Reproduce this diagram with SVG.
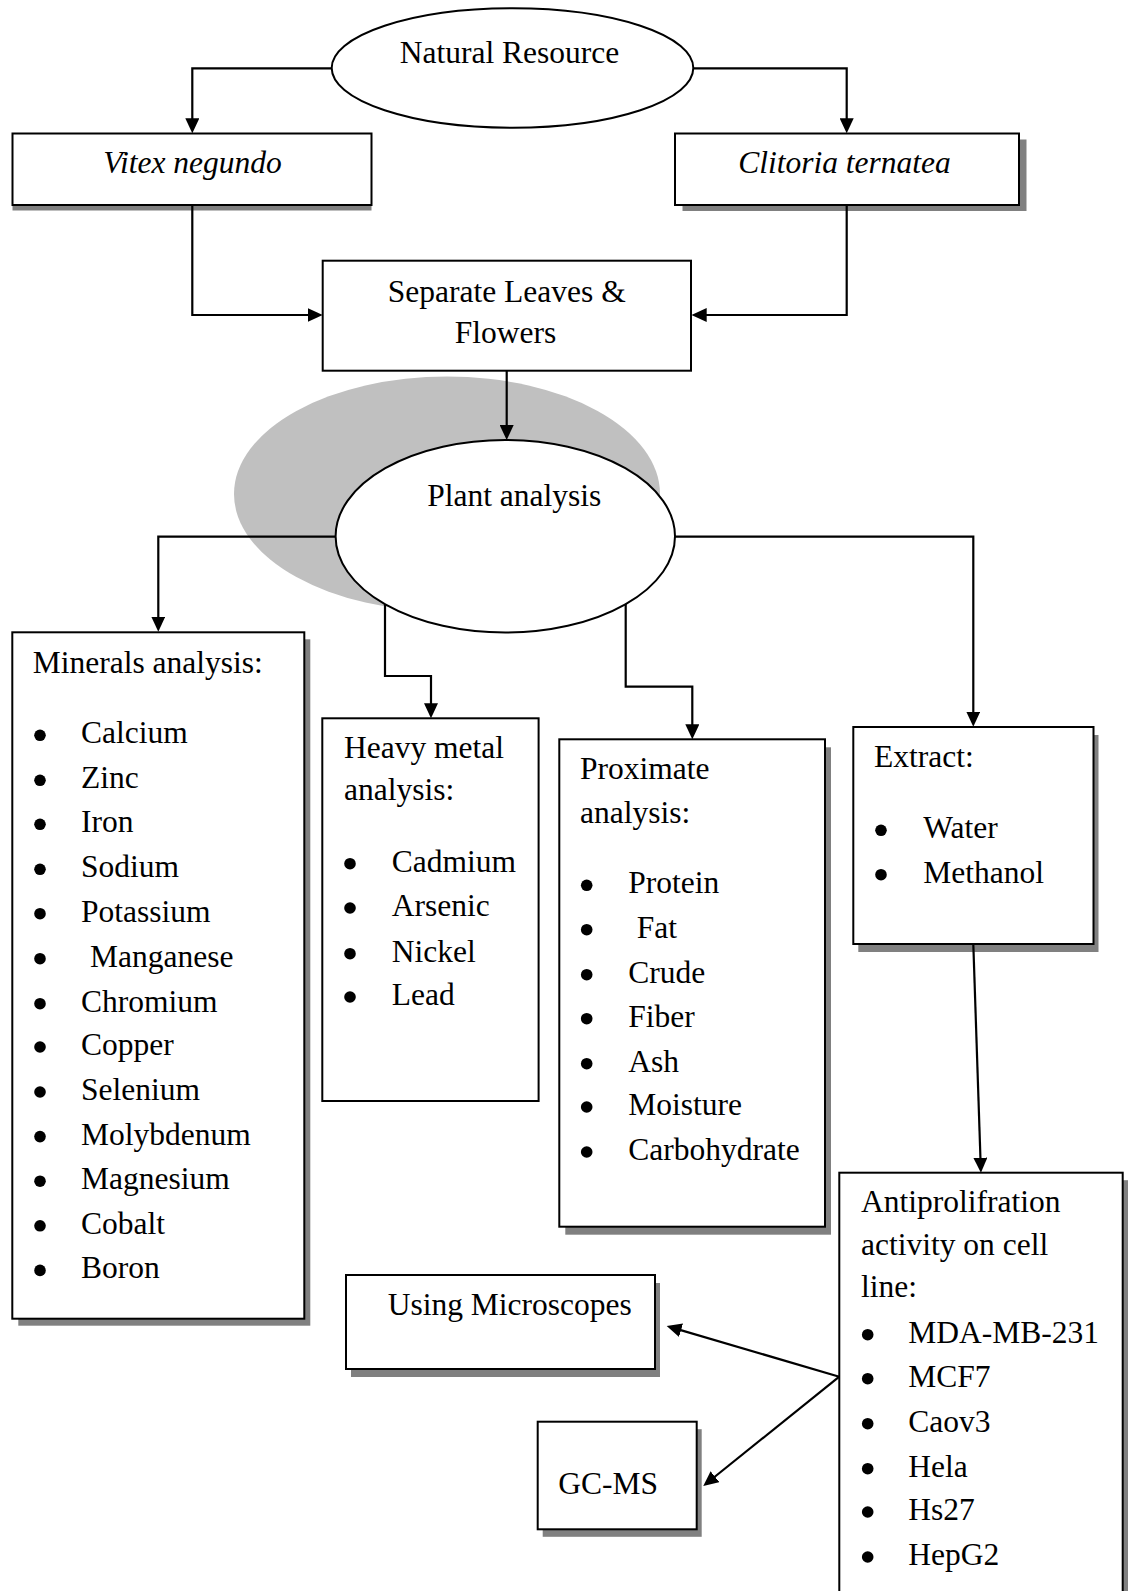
<svg xmlns="http://www.w3.org/2000/svg" width="1128" height="1591" viewBox="0 0 1128 1591">
<defs>
<style>
text{font-family:"Liberation Serif","Times New Roman",serif;font-size:31.5px;fill:#000}
.it{font-style:italic}
.mid{text-anchor:middle}
.bul{fill:#000}
.box{fill:#fff;stroke:#000;stroke-width:2}
.sh{fill:#808080}
.conn{fill:none;stroke:#000;stroke-width:2.2}
</style>
<marker id="ah" viewBox="0 0 15 14" refX="11" refY="7" markerWidth="15" markerHeight="14" markerUnits="userSpaceOnUse" orient="auto">
<path d="M0,0 L15,7 L0,14 z" fill="#000"/>
</marker>
</defs>
<rect width="1128" height="1591" fill="#fff"/>

<g id="natural-resource">
<ellipse class="box" cx="512.5" cy="68" rx="180.8" ry="59.7"/>
<text class="mid" x="509.5" y="62.7">Natural Resource</text>
</g>

<g id="vitex">
<rect class="sh" x="12.5" y="139" width="359" height="71.5"/>
<rect class="box" x="12.5" y="133.5" width="359" height="71.5"/>
<text class="it mid" x="192.5" y="172.7">Vitex negundo</text>
</g>

<g id="clitoria">
<rect class="sh" x="682.5" y="139.5" width="344" height="71.5"/>
<rect class="box" x="675" y="133.5" width="344" height="71.5"/>
<text class="it mid" x="844.5" y="172.7">Clitoria ternatea</text>
</g>

<g id="separate">
<rect class="box" x="322.7" y="260.7" width="368.3" height="110"/>
<text class="mid" x="506.7" y="301.7">Separate Leaves &amp;</text>
<text class="mid" x="505.5" y="343.3">Flowers</text>
</g>

<g id="plant-analysis">
<ellipse cx="447" cy="494" rx="213" ry="117.5" fill="#c0c0c0"/>
<ellipse class="box" cx="505.3" cy="536.3" rx="169.7" ry="96.3"/>
<text class="mid" x="514.2" y="505.7">Plant analysis</text>
</g>

<g id="minerals">
<rect class="sh" x="18.3" y="639.3" width="292" height="686.4"/>
<rect class="box" x="12.3" y="632.3" width="292" height="686.4"/>
<text x="32.7" y="672.7">Minerals analysis:</text>
<g class="bul">
<circle cx="40" cy="735.3" r="5.8"/><circle cx="40" cy="780.3" r="5.8"/><circle cx="40" cy="824.3" r="5.8"/>
<circle cx="40" cy="869.3" r="5.8"/><circle cx="40" cy="913.7" r="5.8"/><circle cx="40" cy="958.7" r="5.8"/>
<circle cx="40" cy="1003.7" r="5.8"/><circle cx="40" cy="1047" r="5.8"/><circle cx="40" cy="1092" r="5.8"/>
<circle cx="40" cy="1136.6" r="5.8"/><circle cx="40" cy="1181.2" r="5.8"/><circle cx="40" cy="1225.8" r="5.8"/>
<circle cx="40" cy="1270.4" r="5.8"/>
</g>
<text x="81" y="743.3">Calcium</text>
<text x="81" y="788.3">Zinc</text>
<text x="81" y="832.3">Iron</text>
<text x="81" y="877.3">Sodium</text>
<text x="81" y="921.7">Potassium</text>
<text x="90" y="966.7">Manganese</text>
<text x="81" y="1011.7">Chromium</text>
<text x="81" y="1055">Copper</text>
<text x="81" y="1100">Selenium</text>
<text x="81" y="1144.6">Molybdenum</text>
<text x="81" y="1189.2">Magnesium</text>
<text x="81" y="1233.8">Cobalt</text>
<text x="81" y="1278.4">Boron</text>
</g>

<g id="heavy-metal">
<rect class="box" x="322.3" y="718.3" width="216.3" height="382.7"/>
<text x="344" y="758.3">Heavy metal</text>
<text x="344" y="800">analysis:</text>
<g class="bul">
<circle cx="350" cy="863.7" r="5.8"/><circle cx="350" cy="908" r="5.8"/>
<circle cx="350" cy="953.7" r="5.8"/><circle cx="350" cy="997" r="5.8"/>
</g>
<text x="391.7" y="871.7">Cadmium</text>
<text x="391.7" y="916">Arsenic</text>
<text x="391.7" y="961.7">Nickel</text>
<text x="391.7" y="1005">Lead</text>
</g>

<g id="proximate">
<rect class="sh" x="565.3" y="747.3" width="265.7" height="487.4"/>
<rect class="box" x="559.3" y="739.3" width="265.7" height="487.4"/>
<text x="580" y="779.3">Proximate</text>
<text x="580" y="823.3">analysis:</text>
<g class="bul">
<circle cx="586.7" cy="885.3" r="5.8"/><circle cx="586.7" cy="929.7" r="5.8"/>
<circle cx="586.7" cy="974.7" r="5.8"/><circle cx="586.7" cy="1018.7" r="5.8"/>
<circle cx="586.7" cy="1063.7" r="5.8"/><circle cx="586.7" cy="1107" r="5.8"/>
<circle cx="586.7" cy="1152" r="5.8"/>
</g>
<text x="628.3" y="893.3">Protein</text>
<text x="636.7" y="937.7">Fat</text>
<text x="628.3" y="982.7">Crude</text>
<text x="628.3" y="1026.7">Fiber</text>
<text x="628.3" y="1071.7">Ash</text>
<text x="628.3" y="1115">Moisture</text>
<text x="628.3" y="1160">Carbohydrate</text>
</g>

<g id="extract">
<rect class="sh" x="858.3" y="735" width="240.2" height="217"/>
<rect class="box" x="853.3" y="727" width="240.2" height="217"/>
<text x="874" y="767.3">Extract:</text>
<g class="bul">
<circle cx="881" cy="830.3" r="5.8"/><circle cx="881" cy="874.7" r="5.8"/>
</g>
<text x="923.3" y="838.3">Water</text>
<text x="923.3" y="882.7">Methanol</text>
</g>

<g id="antiproliferation">
<rect class="sh" x="845" y="1180.2" width="283.4" height="430"/>
<rect class="box" x="839.3" y="1172.7" width="283.4" height="430"/>
<text x="861" y="1211.7">Antiprolifration</text>
<text x="861" y="1255">activity on cell</text>
<text x="861" y="1296.7">line:</text>
<g class="bul">
<circle cx="867.7" cy="1334.7" r="5.8"/><circle cx="867.7" cy="1378.7" r="5.8"/>
<circle cx="867.7" cy="1423.7" r="5.8"/><circle cx="867.7" cy="1468.7" r="5.8"/>
<circle cx="867.7" cy="1512" r="5.8"/><circle cx="867.7" cy="1557" r="5.8"/>
</g>
<text x="908.3" y="1342.7">MDA-MB-231</text>
<text x="908.3" y="1386.7">MCF7</text>
<text x="908.3" y="1431.7">Caov3</text>
<text x="908.3" y="1476.7">Hela</text>
<text x="908.3" y="1520">Hs27</text>
<text x="908.3" y="1565">HepG2</text>
</g>

<g id="microscopes">
<rect class="sh" x="351" y="1283" width="309" height="94"/>
<rect class="box" x="346" y="1275" width="309" height="94"/>
<text x="387.7" y="1315">Using Microscopes</text>
</g>

<g id="gcms">
<rect class="sh" x="542.7" y="1429.2" width="159" height="107.6"/>
<rect class="box" x="537.7" y="1421.7" width="159" height="107.6"/>
<text x="558.3" y="1494">GC-MS</text>
</g>

<g id="connectors">
<path class="conn" d="M332,68.3 H192.3 V129.3" marker-end="url(#ah)"/>
<path class="conn" d="M693,68.3 H846.7 V129.3" marker-end="url(#ah)"/>
<path class="conn" d="M192.3,205 V315 H318.7" marker-end="url(#ah)"/>
<path class="conn" d="M846.7,205 V315 H695.7" marker-end="url(#ah)"/>
<path class="conn" d="M506.7,371 V436" marker-end="url(#ah)"/>
<path class="conn" d="M335.7,536.7 H158.3 V627.7" marker-end="url(#ah)"/>
<path class="conn" d="M385,604 V676 H431 V714.3" marker-end="url(#ah)"/>
<path class="conn" d="M625.7,604 V686.7 H692.3 V735.3" marker-end="url(#ah)"/>
<path class="conn" d="M675,536.7 H973.3 V722.7" marker-end="url(#ah)"/>
<path class="conn" d="M973.3,944 L980.8,1168.7" marker-end="url(#ah)"/>
<path class="conn" d="M839.3,1376.7 L670.5,1327.1" marker-end="url(#ah)"/>
<path class="conn" d="M839.3,1376.7 L706.4,1483.5" marker-end="url(#ah)"/>
</g>
</svg>
